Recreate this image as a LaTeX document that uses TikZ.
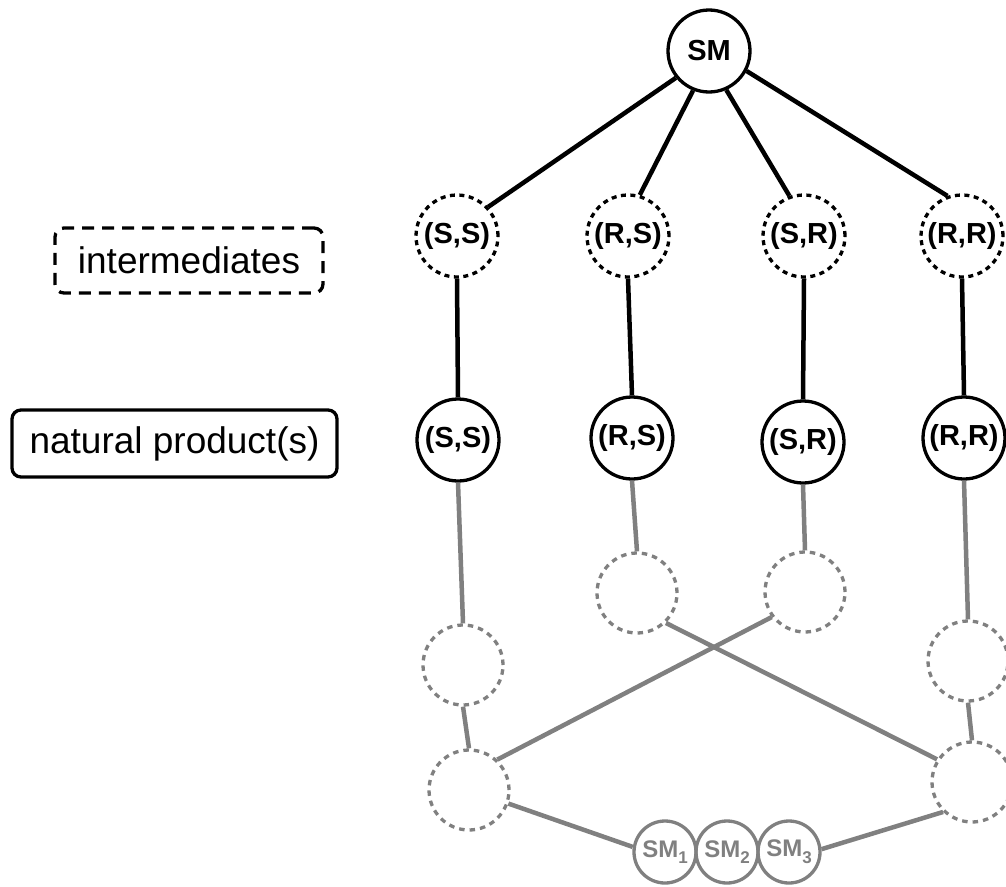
\documentclass[tikz,border=0pt]{standalone}
\usepackage{fontspec}
\setmainfont{Liberation Sans}
\definecolor{gr}{HTML}{808080}
\newcommand{\mysub}[1]{\raisebox{-0.28em}{\fontsize{17}{17}\selectfont #1}}
\begin{document}
\begin{tikzpicture}[x=1pt,y=-1pt,
  nd/.style={circle, draw, line width=3.3pt, minimum size=82pt, inner sep=0pt,
    font=\fontsize{29}{33}\selectfont\bfseries},
  ndd/.style={nd, dash pattern=on 5pt off 4.5pt},
  gd/.style={circle, draw=gr, line width=3.3pt, minimum size=80pt, inner sep=0pt,
    dash pattern=on 5.5pt off 5pt},
  smn/.style={circle, draw=gr, text=gr, line width=3.3pt, minimum size=62pt, inner sep=0pt,
    font=\fontsize{24}{28}\selectfont\bfseries},
  blk/.style={line width=4.5pt},
  gl/.style={line width=4.5pt, draw=gr},
  leg/.style={draw, line width=3.3pt, rounded corners=9pt, inner sep=0pt,
    font=\fontsize{37}{44}\selectfont}]
\useasboundingbox (0,0) rectangle (1006,886);
% legend
\node[leg, dash pattern=on 12pt off 8pt, minimum width=268pt, minimum height=65pt] (Li) at (189,260.5) {intermediates};
\node[leg, minimum width=325pt, minimum height=67pt] (Ln) at (174.5,443.5) {natural product(s)};
% top
\node[nd] (SM) at (709,51) {SM};
\node[ndd] (SSi) at (457,236) {(S,S)};
\node[ndd] (RSi) at (628,236) {(R,S)};
\node[ndd] (SRi) at (804,236) {(S,R)};
\node[ndd] (RRi) at (962,236) {(R,R)};
\node[nd] (SSn) at (458,440) {(S,S)};
\node[nd] (RSn) at (632,438) {(R,S)};
\node[nd] (SRn) at (803,442) {(S,R)};
\node[nd] (RRn) at (964,438) {(R,R)};
% grey
\node[gd] (SSd) at (463,665) {};
\node[gd] (RSd) at (637,593) {};
\node[gd] (SRd) at (805,592) {};
\node[gd] (RRd) at (968,661) {};
\node[gd] (BL) at (469,790) {};
\node[gd] (BR) at (972,782) {};
\node[smn] (S1) at (665,852) {SM\mysub{1}};
\node[smn] (S2) at (727,852) {SM\mysub{2}};
\node[smn] (S3) at (789,852) {SM\mysub{3}};
% black connectors
\draw[blk] (SM.219) -- (SSi.43);
\draw[blk] (SM.248) -- (RSi.74);
\draw[blk] (SM.294) -- (SRi.110);
\draw[blk] (SM.332) -- (RRi.110);
\draw[blk] (SSi.south) -- (SSn.north);
\draw[blk] (RSi.south) -- (RSn.north);
\draw[blk] (SRi.south) -- (SRn.north);
\draw[blk] (RRi.south) -- (RRn.north);
% grey connectors
\draw[gl] (SSn.south) -- (SSd.north);
\draw[gl] (RSn.south) -- (RSd.north);
\draw[gl] (SRn.south) -- (SRd.north);
\draw[gl] (RRn.south) -- (RRd.north);
\draw[gl] (SSd.south) -- (BL.north);
\draw[gl] (RRd.south) -- (BR.north);
\draw[gl] (BL.47) -- (SRd.217);
\draw[gl] (RSd.314) -- (BR.147);
\draw[gl] (BL.-19) -- (S1.171);
\draw[gl] (S3.5) -- (BR.226);
\end{tikzpicture}
\end{document}
